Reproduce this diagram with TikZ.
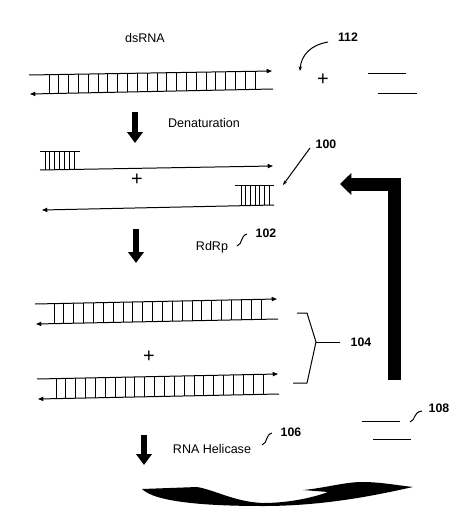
\documentclass[tikz,border=0pt]{standalone}
\usepackage{fontspec}
\setmainfont{Liberation Sans}
\usetikzlibrary{arrows.meta,calc}

\tikzset{
  strand/.style={line width=0.85pt},
  tofwd/.style={strand,-{Triangle[length=4.5pt,width=3.6pt]}},
  rung/.style={line width=0.65pt},
  fatarrow/.style={line width=0.19cm,-{Triangle[length=0.33cm,width=0.46cm]}},
  label/.style={font=\fontsize{10.7}{12}\selectfont},
  refnum/.style={font=\fontsize{10.5}{12}\selectfont\bfseries},
  plus/.style={font=\fontsize{17}{18}\selectfont}
}

\begin{document}
\begin{tikzpicture}[x=0.03cm,y=-0.03cm]
  \useasboundingbox (0,0) rectangle (474,527);

  % dsRNA duplex
  \node [label] (dsrna) at (145,38) {dsRNA};
  \draw [tofwd] (29,75) -- (272,71);
  \draw [tofwd] (273,89) -- (30,94);
  \coordinate (a1) at (49,74.7);  \coordinate (a2) at (255,71.3);
  \coordinate (b1) at (49,93.6);  \coordinate (b2) at (255,89.4);
  \foreach \i in {0,...,21}
    \draw [rung] ($(a1)!\i/21!(a2)$) -- ($(b1)!\i/21!(b2)$);

  \node [plus] (plus1) at (323,80) {+};
  \draw [strand] (368,73) -- (406,73);
  \draw [strand] (378,93) -- (417,93);
  \node [refnum] (n112) at (348,37) {112};
  \coordinate (p112) at (328,42);
  \coordinate (q112) at (300,71);
  \draw [strand,-{Stealth[length=4pt,width=3pt]}] (p112) .. controls (310,45) and (301,56) .. (q112);

  % denaturation
  \draw [fatarrow] (135,112) -- (135,143);
  \node [label] (denat) at (204,123) {Denaturation};

  \draw [strand] (40,151) -- (80,151);
  \draw [tofwd] (40,170) -- (273,166);
  \coordinate (c1) at (45,151);   \coordinate (c2) at (74,151);
  \coordinate (d1) at (45,169.9); \coordinate (d2) at (74,169.4);
  \foreach \i in {0,...,6}
    \draw [rung] ($(c1)!\i/6!(c2)$) -- ($(d1)!\i/6!(d2)$);
  \node [plus] (plus2) at (137,180) {+};

  \draw [strand] (235,185) -- (274,185);
  \draw [tofwd] (274,205) -- (42,210);
  \coordinate (e1) at (241,185);   \coordinate (e2) at (269,185);
  \coordinate (f1) at (241,205.7); \coordinate (f2) at (269,205.1);
  \foreach \i in {0,...,6}
    \draw [rung] ($(e1)!\i/6!(e2)$) -- ($(f1)!\i/6!(f2)$);

  \node [refnum] (n100) at (326,144) {100};
  \coordinate (p100) at (310,148);
  \coordinate (q100) at (283,185);
  \draw [strand,-{Stealth[length=4pt,width=3pt]}] (p100) -- (q100);

  % RdRp
  \draw [fatarrow] (136,229) -- (136,263);
  \node [label] (rdrp) at (212,247) {RdRp};
  \node [refnum] (n102) at (266,233) {102};
  \coordinate (p102) at (237,246);
  \coordinate (q102) at (247,234);
  \draw [strand] (p102) .. controls (243,244) and (240,236) .. (q102);

  % two duplexes
  \draw [tofwd] (35,304) -- (277,299);
  \draw [tofwd] (278,319) -- (36,324);
  \coordinate (g1) at (54,303.6);  \coordinate (g2) at (261,299.3);
  \coordinate (h1) at (54,323.6);  \coordinate (h2) at (261,319.4);
  \foreach \i in {0,...,21}
    \draw [rung] ($(g1)!\i/21!(g2)$) -- ($(h1)!\i/21!(h2)$);

  \node [plus] (plus3) at (149,357) {+};

  \draw [tofwd] (37,379) -- (278,374);
  \draw [tofwd] (279,394) -- (38,399);
  \coordinate (k1) at (56,378.6);  \coordinate (k2) at (263,374.3);
  \coordinate (m1) at (56,398.6);  \coordinate (m2) at (263,394.4);
  \foreach \i in {0,...,21}
    \draw [rung] ($(k1)!\i/21!(k2)$) -- ($(m1)!\i/21!(m2)$);

  \node [refnum] (n104) at (361,342) {104};
  \coordinate (tip104) at (316,342);
  \draw [strand] (297,313) -- (307,313) -- (tip104) -- (307,383) -- (293,383);
  \draw [strand] (tip104) -- (340,342);

  % recycling arrow
  \draw [line width=0.39cm,-{Triangle[length=0.34cm,width=0.64cm]}]
    (394.5,380) |- (340,184);

  % helicase
  \draw [fatarrow] (144,435) -- (144,465);
  \node [label] (helic) at (212,449) {RNA Helicase};
  \node [refnum] (n106) at (291,432) {106};
  \coordinate (p106) at (262,445);
  \coordinate (q106) at (272,433);
  \draw [strand] (p106) .. controls (268,443) and (265,435) .. (q106);

  \draw [strand] (362,421) -- (400,421);
  \draw [strand] (373,439) -- (411,439);
  \node [refnum] (n108) at (439,408) {108};
  \coordinate (p108) at (410,422);
  \coordinate (q108) at (422,411);
  \draw [strand] (p108) .. controls (416,420) and (413,412) .. (q108);

  \fill (142,489) -- (197,487)
    .. controls (215,490) and (235,502) .. (263,503)
    .. controls (290,503) and (315,497) .. (328,492)
    -- (303,490)
    .. controls (325,488) and (345,482) .. (362,482)
    .. controls (380,482) and (395,485) .. (413,487)
    .. controls (385,493) and (330,506) .. (263,506)
    .. controls (205,506) and (155,502) .. (142,489) -- cycle;
\end{tikzpicture}
\end{document}
